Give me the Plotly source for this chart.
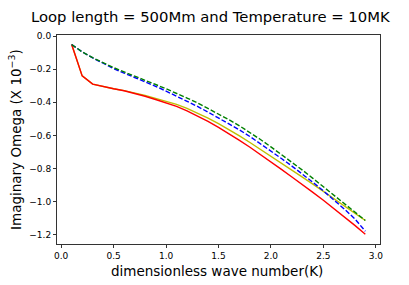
import plotly.graph_objects as go

k = [0.1, 0.2, 0.3, 0.4, 0.5, 0.6, 0.7, 0.8, 0.9, 1.0,
     1.1, 1.2, 1.3, 1.4, 1.5, 1.6, 1.7, 1.8, 1.9, 2.0,
     2.1, 2.2, 2.3, 2.4, 2.5, 2.6, 2.7, 2.8, 2.9]

yellow = [-0.05, -0.24, -0.29, -0.305, -0.318, -0.329, -0.342, -0.358, -0.376, -0.394,
          -0.412, -0.437, -0.465, -0.496, -0.529, -0.565, -0.603, -0.643, -0.684, -0.726,
          -0.768, -0.811, -0.853, -0.895, -0.938, -0.982, -1.026, -1.07, -1.115]

red = [-0.05, -0.24, -0.29, -0.305, -0.318, -0.330, -0.345, -0.363, -0.383, -0.402,
       -0.424, -0.452, -0.483, -0.516, -0.552, -0.590, -0.630, -0.672, -0.715, -0.760,
       -0.806, -0.852, -0.896, -0.945, -0.993, -1.042, -1.093, -1.145, -1.198]

blue = [-0.05, -0.095, -0.131, -0.166, -0.196, -0.223, -0.249, -0.275, -0.303, -0.332,
        -0.362, -0.393, -0.425, -0.459, -0.494, -0.530, -0.567, -0.607, -0.650, -0.694,
        -0.740, -0.786, -0.834, -0.884, -0.936, -0.990, -1.046, -1.105, -1.18]

green = [-0.05, -0.095, -0.130, -0.162, -0.190, -0.216, -0.240, -0.265, -0.292, -0.318,
         -0.345, -0.374, -0.404, -0.436, -0.470, -0.505, -0.542, -0.581, -0.625, -0.670,
         -0.715, -0.762, -0.810, -0.860, -0.910, -0.960, -1.012, -1.063, -1.115]

xtick_vals = [0.0, 0.5, 1.0, 1.5, 2.0, 2.5, 3.0]
xtick_text = ["0.0", "0.5", "1.0", "1.5", "2.0", "2.5", "3.0"]
ytick_vals = [0.0, -0.2, -0.4, -0.6, -0.8, -1.0, -1.2]
ytick_text = ["0.0", "\u22120.2", "\u22120.4", "\u22120.6", "\u22120.8", "\u22121.0", "\u22121.2"]

title_text = "Loop length = 500Mm and Temperature = 10MK"
xlabel = "dimensionless wave number(K)"
ylabel = "Imaginary Omega (X 10<sup>\u22123</sup>)"

W, H = 409, 285
L, R, T, B = 57, 29, 35, 41
PW, PH = W - L - R, H - T - B


def px_x(x):
    return (x - L) / PW


def px_y(y):
    return (H - B - y) / PH


fig = go.Figure()
dash = "4.9px,2.1px"
lw = 1.4
fig.add_trace(go.Scatter(x=k, y=yellow, mode="lines", line=dict(color="#bfbf00", width=lw)))
fig.add_trace(go.Scatter(x=k, y=red, mode="lines", line=dict(color="#ff0000", width=lw)))
fig.add_trace(go.Scatter(x=k, y=blue, mode="lines", line=dict(color="#0000ff", width=lw, dash=dash)))
fig.add_trace(go.Scatter(x=k, y=green, mode="lines", line=dict(color="#008000", width=lw, dash=dash)))

font = "DejaVu Sans"
axis_common = dict(showgrid=False, zeroline=False, showline=True, mirror=True,
                   automargin=False,
                   linecolor="#333", linewidth=1, ticks="outside", ticklen=3,
                   tickwidth=1, tickcolor="#333",
                   tickfont=dict(family=font, size=9, color="#000"))

fig.update_layout(
    width=W, height=H,
    margin=dict(l=L, r=R, t=T, b=B),
    paper_bgcolor="white", plot_bgcolor="white",
    showlegend=False,
    xaxis=dict(range=[-0.04, 3.04], tickmode="array", tickvals=xtick_vals,
               ticktext=xtick_text, **axis_common),
    yaxis=dict(range=[-1.2575, 0.0075], tickmode="array", tickvals=ytick_vals,
               ticktext=ytick_text, **axis_common),
)
fig.add_annotation(text=title_text, xref="paper", yref="paper",
                   x=px_x(211), y=px_y(16), xanchor="center", yanchor="middle",
                   showarrow=False, font=dict(family=font, size=14.8, color="#000"))
fig.add_annotation(text=xlabel, xref="paper", yref="paper",
                   x=px_x(217), y=px_y(271), xanchor="center", yanchor="middle",
                   showarrow=False, font=dict(family=font, size=13.5, color="#000"))
fig.add_annotation(text=ylabel, xref="paper", yref="paper",
                   x=px_x(15), y=px_y(140), textangle=-90,
                   xanchor="center", yanchor="middle", showarrow=False,
                   font=dict(family=font, size=13.5, color="#000"))

fig.write_html("out.html", config={"displayModeBar": False},
               post_script="document.body.style.margin='0';document.body.style.padding='0';")
